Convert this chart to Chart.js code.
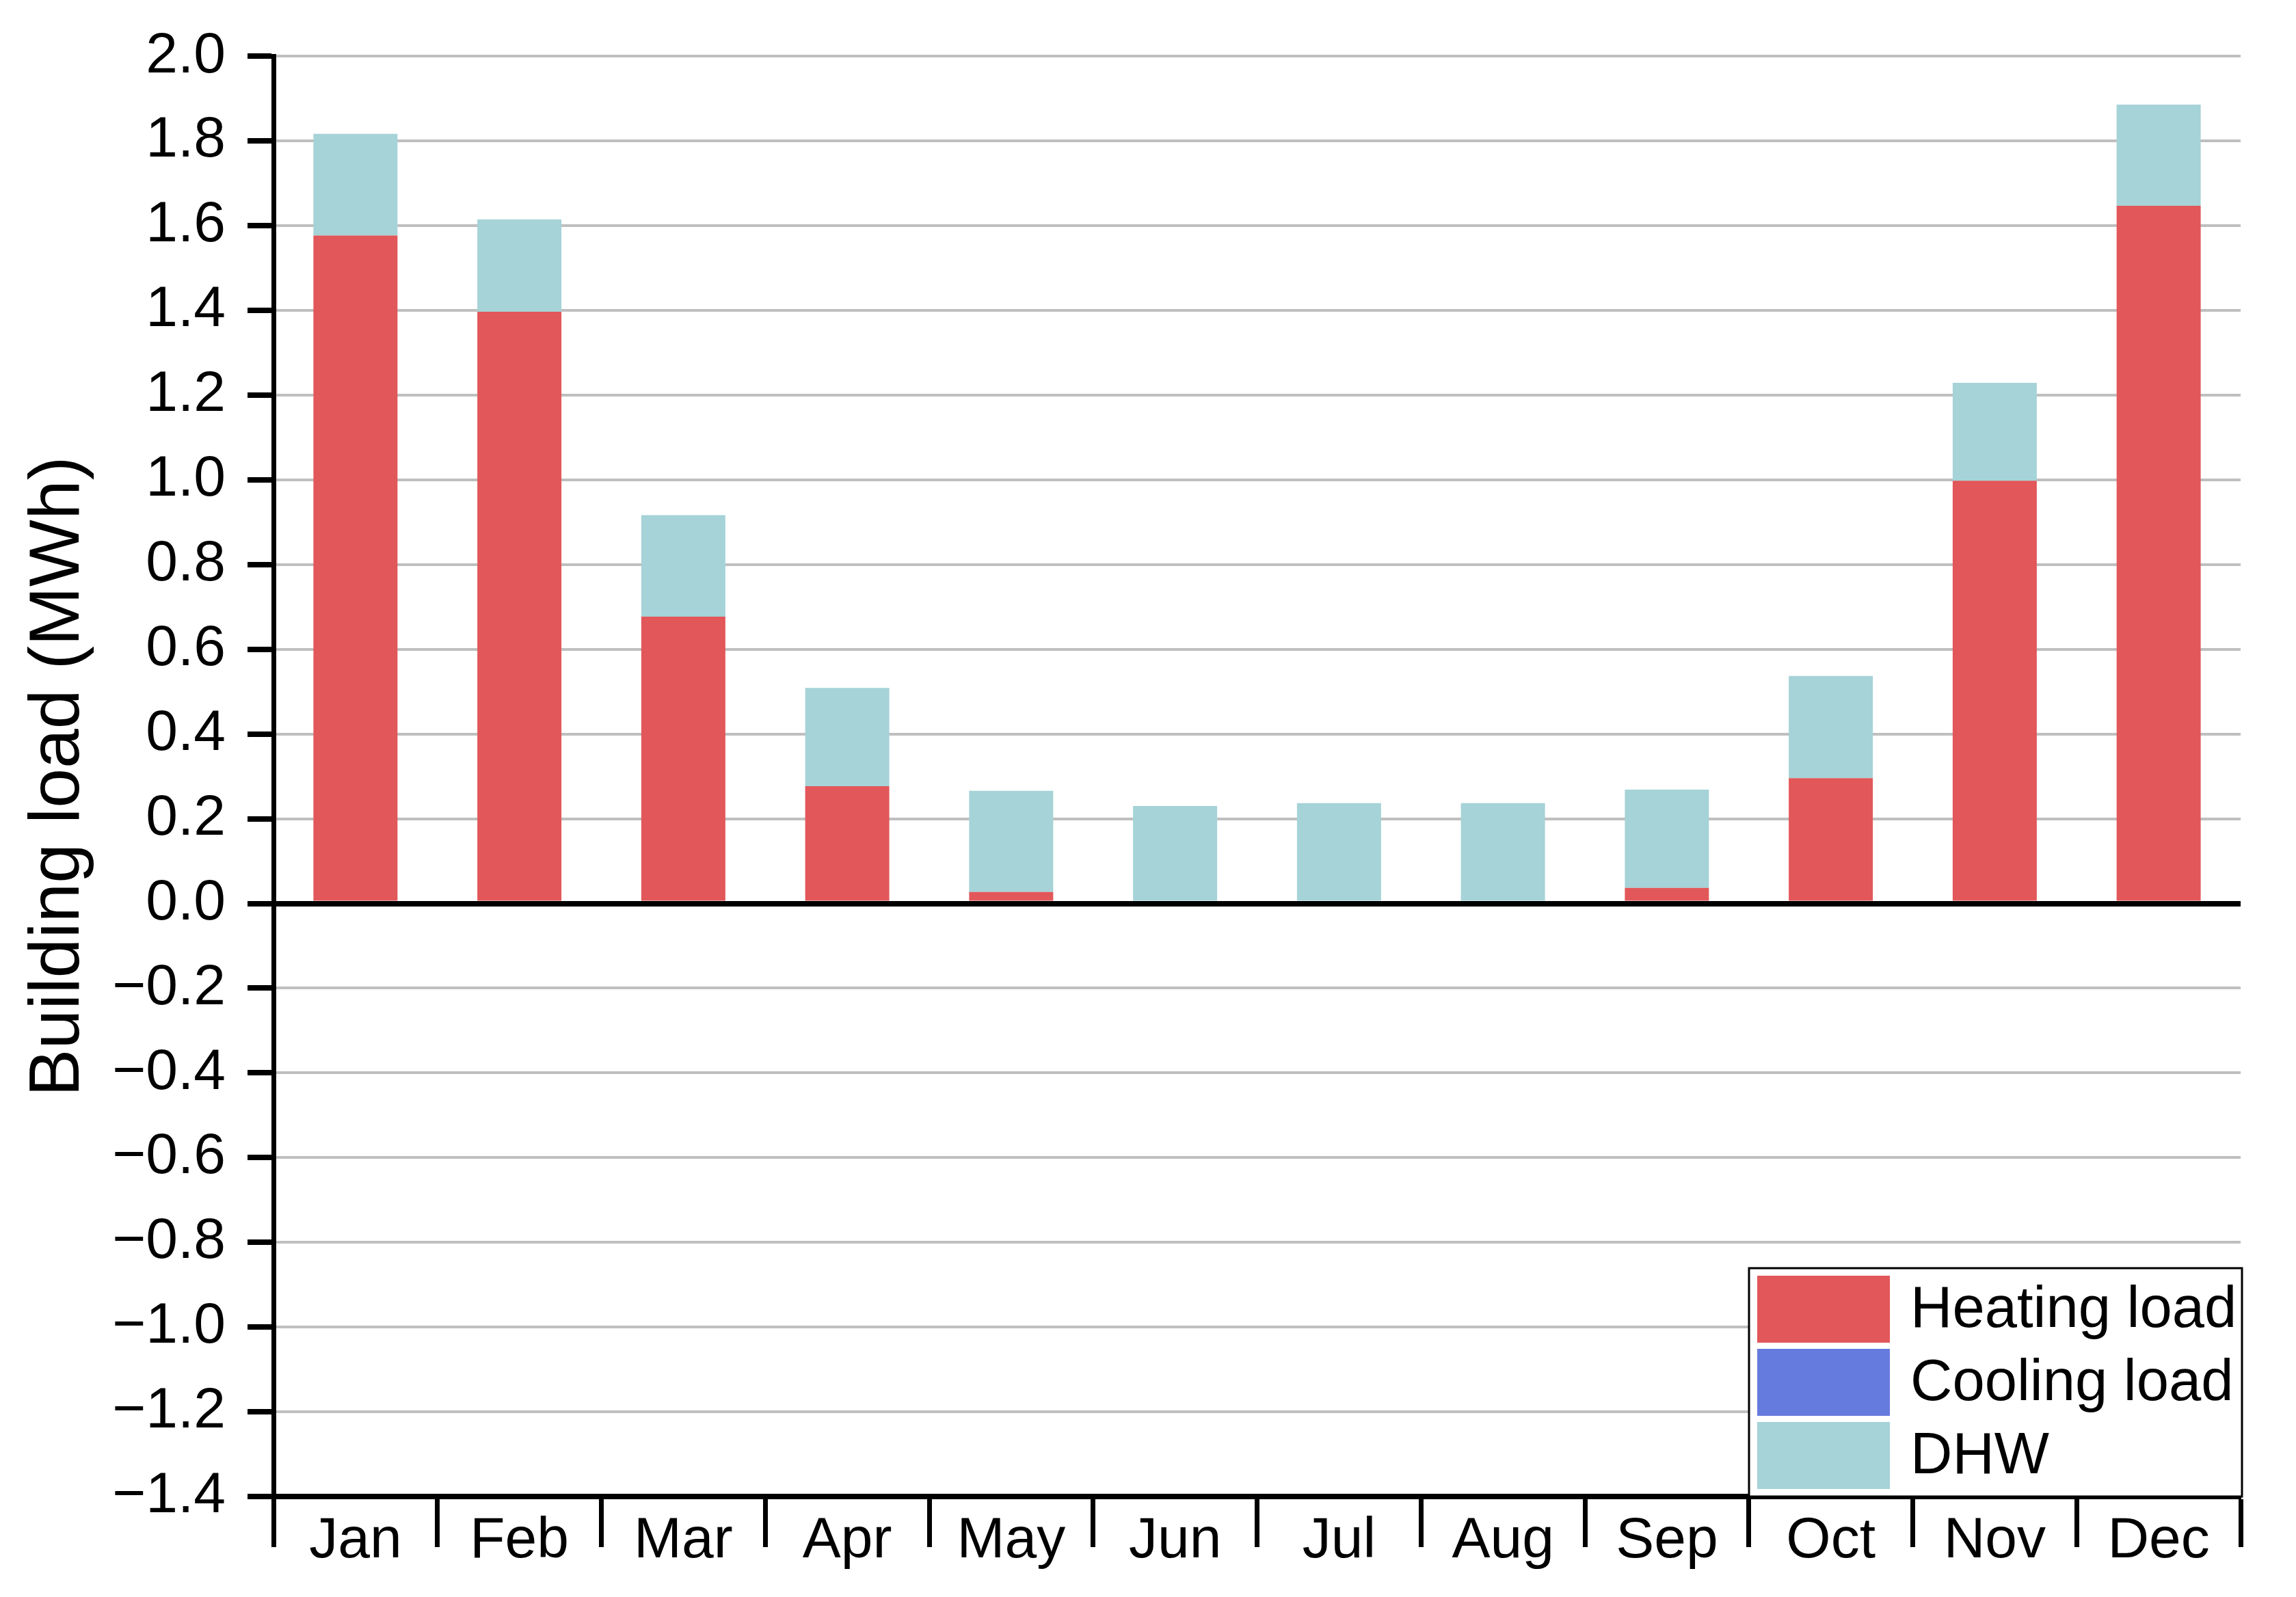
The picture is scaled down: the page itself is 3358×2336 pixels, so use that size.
<!DOCTYPE html>
<html>
<head>
<meta charset="utf-8">
<title>Building load</title>
<script src="https://cdn.jsdelivr.net/npm/chart.js@4.4.1/dist/chart.umd.min.js"></script>
<style>
    html, body { margin: 0; padding: 0; background: #ffffff; }
    #wrap { width: 3358px; height: 2336px; position: relative; }
</style>
</head>
<body>
<div id="wrap"><canvas id="loadChart"></canvas></div>
<script>
const months = ['Jan', 'Feb', 'Mar', 'Apr', 'May', 'Jun', 'Jul', 'Aug', 'Sep', 'Oct', 'Nov', 'Dec'];
const heatingLoad = [1.577, 1.397, 0.677, 0.277, 0.027, 0, 0, 0, 0.037, 0.296, 0.998, 1.647];
const coolingLoad = [0, 0, 0, 0, 0, 0, 0, 0, 0, 0, 0, 0];
const dhwLoad = [0.240, 0.218, 0.240, 0.232, 0.239, 0.230, 0.237, 0.237, 0.232, 0.241, 0.231, 0.239];
const yMin = -1.4;
const yMax = 2.0;
const yStep = 0.2;

const fontFamily = '"Liberation Sans", Arial, Helvetica, sans-serif';

// legend box drawn inside the plot, bottom right, framed
const boxLegend = {
    id: 'boxLegend',
    afterDraw(chart) {
        const ctx = chart.ctx;
        const area = chart.chartArea;
        const left = area.right - 719;
        const top = area.bottom - 334;
        ctx.save();
        ctx.fillStyle = '#ffffff';
        ctx.fillRect(left, top, area.right + 2 - left, area.bottom - top);
        ctx.strokeStyle = '#000000';
        ctx.lineWidth = 3;
        ctx.strokeRect(left, top, area.right + 2 - left, area.bottom - top);
        ctx.font = '85px ' + fontFamily;
        ctx.textBaseline = 'middle';
        ctx.textAlign = 'left';
        chart.data.datasets.forEach((ds, i) => {
            const y = top + 11 + i * 107;
            ctx.fillStyle = ds.backgroundColor;
            ctx.fillRect(left + 12, y, 194, 98);
            ctx.fillStyle = '#000000';
            ctx.fillText(ds.label, left + 236, y + 52);
        });
        ctx.restore();
    }
};

const ctx = document.getElementById('loadChart').getContext('2d');

const data = {
    labels: months,
    datasets: [
        { label: 'Heating load', data: heatingLoad, backgroundColor: '#e25759' },
        { label: 'Cooling load', data: coolingLoad, backgroundColor: '#667bde' },
        { label: 'DHW', data: dhwLoad, backgroundColor: '#a5d3d7' }
    ]
};

const config = {
    type: 'bar',
    data: data,
    options: {
        responsive: true,
        maintainAspectRatio: false,
        devicePixelRatio: 1,
        animation: false,
        datasets: {
            bar: {
                barPercentage: 0.513,
                categoryPercentage: 1.0,
                borderWidth: 0
            }
        },
        layout: {
            padding: { top: 81, right: 81, left: 0, bottom: 0 }
        },
        plugins: {
            legend: { display: false },
            tooltip: { enabled: false }
        },
        scales: {
            x: {
                stacked: true,
                afterFit: (scale) => { scale.height = 147; },
                border: { display: true, color: '#000000', width: 8 },
                grid: {
                    offset: true,
                    drawOnChartArea: false,
                    drawTicks: true,
                    tickLength: 74,
                    tickWidth: 7,
                    tickColor: '#000000'
                },
                ticks: {
                    color: '#000000',
                    padding: -59,
                    font: { family: fontFamily, size: 84 }
                }
            },
            y: {
                stacked: true,
                min: yMin,
                max: yMax,
                afterFit: (scale) => { scale.width = 400; },
                border: { display: true, color: '#000000', width: 7 },
                grid: {
                    color: (c) => (c.tick && Math.abs(c.tick.value) < 1e-9 ? '#000000' : '#bfbfbf'),
                    lineWidth: (c) => (c.tick && Math.abs(c.tick.value) < 1e-9 ? 8 : 4),
                    drawTicks: true,
                    tickLength: 38,
                    tickWidth: 8,
                    tickColor: '#000000'
                },
                ticks: {
                    stepSize: yStep,
                    color: '#000000',
                    padding: 32,
                    font: { family: fontFamily, size: 84 },
                    callback: (v) => {
                        if (Math.abs(v) < 1e-9) return '0.0';
                        return v.toFixed(1).replace('-', '\u2212');
                    }
                },
                title: {
                    display: true,
                    text: 'Building load (MWh)',
                    color: '#000000',
                    padding: { top: 24, bottom: 0 },
                    font: { family: fontFamily, size: 104 }
                }
            }
        }
    },
    plugins: [boxLegend]
};

const loadChart = new Chart(ctx, config);
</script>
</body>
</html>
